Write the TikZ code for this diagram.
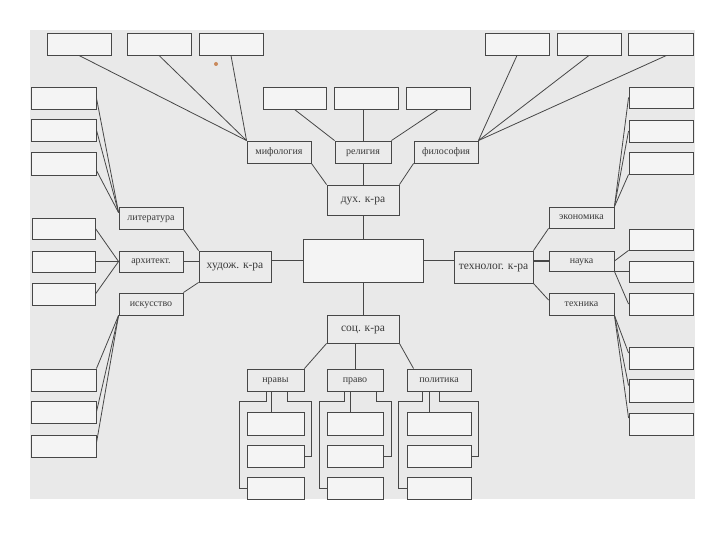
\documentclass[tikz,border=0pt]{standalone}
\usepackage{fontspec}
\setmainfont{Liberation Serif}
\definecolor{bg}{HTML}{E9E9E9}
\definecolor{blankfill}{HTML}{F4F4F4}
\definecolor{labelfill}{HTML}{EBEBEB}
\definecolor{edgecol}{HTML}{474747}
\definecolor{txtcol}{HTML}{3A3A3A}
\definecolor{dotcol}{HTML}{C98A5C}
\tikzset{
  box/.style={draw=edgecol, line width=0.9pt, inner sep=0pt, fill=labelfill,
    minimum width=64pt, minimum height=22pt, text=txtcol,
    text height=1ex, text depth=0pt,
    font=\fontsize{10}{12}\selectfont},
  bigbox/.style={box, font=\fontsize{11.5}{13}\selectfont},
  blank/.style={box, fill=blankfill},
  link/.style={draw=edgecol, line width=0.8pt},
  thicklink/.style={draw=edgecol, line width=1.6pt},
  midlink/.style={draw=edgecol, line width=1.2pt}
}
\begin{document}
\begin{tikzpicture}[x=1pt,y=-1pt]
\useasboundingbox (0,0) rectangle (720,540);
\fill[white] (0,0) rectangle (720,540);
\fill[bg] (30,30) rectangle (695,499);
\fill[dotcol] (216,64) circle (2pt);

% top rows
\node[blank] (tl1) at (79,44) {};
\node[blank] (tl2) at (159,44) {};
\node[blank] (tl3) at (231,44) {};
\node[blank] (tr1) at (517,44) {};
\node[blank] (tr2) at (589,44) {};
\node[blank, minimum width=65pt] (tr3) at (660.5,44) {};
\node[blank, minimum width=63pt] (m1) at (294.5,98) {};
\node[blank] (m2) at (366,98) {};
\node[blank] (m3) at (438,98) {};
\node[box] (myth) at (279,152) {мифология};
\node[box, minimum width=56pt] (rel) at (363,152) {религия};
\node[box] (phil) at (446,152) {философия};
\node[bigbox, minimum width=72pt, minimum height=30pt] (dukh) at (363,200) {дух. к-ра};

% centre row
\node[blank, minimum width=120pt, minimum height=43pt] (cen) at (363,260.5) {};
\node[bigbox, minimum width=72pt, minimum height=31pt] (hud) at (235,266.5) {худож. к-ра};
\node[bigbox, minimum width=79pt, minimum height=32pt] (tech) at (493.5,267) {технолог. к-ра};
\node[bigbox, minimum width=72pt, minimum height=28pt] (soc) at (363,329) {соц. к-ра};

% left side
\node[box] (lit) at (151,218) {литература};
\node[box, minimum height=21pt] (arch) at (151,261.5) {архитект.};
\node[box] (isk) at (151,304) {искусство};
\node[blank, minimum width=63pt, minimum height=21pt] (la1) at (63.5,228.5) {};
\node[blank, minimum width=63pt, minimum height=21pt] (la2) at (63.5,261.5) {};
\node[blank, minimum width=63pt] (la3) at (63.5,294) {};
\node[blank, minimum width=65pt] (lt1) at (63.5,98) {};
\node[blank, minimum width=65pt] (lt2) at (63.5,130) {};
\node[blank, minimum width=65pt, minimum height=23pt] (lt3) at (63.5,163.5) {};
\node[blank, minimum width=65pt] (lb1) at (63.5,380) {};
\node[blank, minimum width=65pt] (lb2) at (63.5,412) {};
\node[blank, minimum width=65pt] (lb3) at (63.5,446) {};

% right side
\node[box, minimum width=65pt, minimum height=21pt] (econ) at (581.5,217.5) {экономика};
\node[box, minimum width=65pt, minimum height=20pt] (nauka) at (581.5,261) {наука};
\node[box, minimum width=65pt] (tekh) at (581.5,304) {техника};
\node[blank, minimum height=21pt] (rt1) at (661,97.5) {};
\node[blank] (rt2) at (661,131) {};
\node[blank] (rt3) at (661,163) {};
\node[blank, minimum height=21pt] (rn1) at (661,239.5) {};
\node[blank, minimum height=21pt] (rn2) at (661,271.5) {};
\node[blank] (rn3) at (661,304) {};
\node[blank] (rb1) at (661,358) {};
\node[blank, minimum height=23pt] (rb2) at (661,390.5) {};
\node[blank] (rb3) at (661,424) {};

% bottom
\node[box, minimum width=57pt] (nrav) at (275.5,380) {нравы};
\node[box, minimum width=56pt] (prav) at (355,380) {право};
\node[box] (pol) at (439,380) {политика};
\node[blank, minimum width=57pt, minimum height=23pt] (n1) at (275.5,423.5) {};
\node[blank, minimum width=57pt] (n2) at (275.5,456) {};
\node[blank, minimum width=57pt] (n3) at (275.5,488) {};
\node[blank, minimum width=56pt, minimum height=23pt] (p1) at (355,423.5) {};
\node[blank, minimum width=56pt] (p2) at (355,456) {};
\node[blank, minimum width=56pt] (p3) at (355,488) {};
\node[blank, minimum height=23pt] (q1) at (439,423.5) {};
\node[blank] (q2) at (439,456) {};
\node[blank] (q3) at (439,488) {};

% connectors: spiritual culture
\draw[link] (tl1.south) -- (myth.north west);
\draw[link] (tl2.south) -- (myth.north west);
\draw[link] (tl3.south) -- (myth.north west);
\draw[link] (m1.south) -- (rel.north west);
\draw[link] (rel.north) -- (rel.north |- m2.south);
\draw[link] (m3.south) -- (rel.north east);
\draw[link] (tr1.south) -- (phil.north east);
\draw[link] (tr2.south) -- (phil.north east);
\draw[link] ([xshift=6pt]tr3.south) -- (phil.north east);
\draw[link] (myth.south east) -- (dukh.north west);
\draw[link] (rel.south) -- (dukh.north);
\draw[link] (phil.south west) -- (dukh.north east);
\draw[link] (dukh.south) -- (cen.north);

% centre
\draw[thicklink] (cen.west) -- (cen.west -| hud.east);
\draw[thicklink] (cen.east) -- (cen.east -| tech.west);
\draw[link] (cen.south) -- (soc.north);

% artistic culture
\draw[link] (lit.south east) -- (hud.north west);
\draw[thicklink] (arch.east) -- (arch.east -| hud.west);
\draw[link] (isk.north east) -- (hud.south west);
\draw[link] (lt1.east) -- ([yshift=-6pt]lit.north west);
\draw[link] (lt2.east) -- ([yshift=-6pt]lit.north west);
\draw[link] ([yshift=5pt]lt3.south east) -- ([yshift=-6pt]lit.north west);
\draw[link] (la1.east) -- (arch.west);
\draw[thicklink] (la2.east) -- (arch.west);
\draw[link] (la3.east) -- (arch.west);
\draw[link] (isk.south west) -- (lb1.north east);
\draw[link] (isk.south west) -- (lb2.east);
\draw[link] (isk.south west) -- ([yshift=3pt]lb3.east);

% technological culture
\draw[link] (econ.south west) -- (tech.north east);
\draw[thicklink] (nauka.west) -- (nauka.west -| tech.east);
\draw[link] (tech.south east) -- ([yshift=4pt]tekh.west);
\draw[link] (econ.north east) -- (rt1.west);
\draw[link] (econ.north east) -- (rt2.west);
\draw[link] (econ.north east) -- (rt3.south west);
\draw[link] (nauka.east) -- (rn1.south west);
\draw[midlink] (nauka.south west) -- (nauka.south west -| rn2.west);
\draw[link] (nauka.south east) -- (rn3.west);
\draw[link] (tekh.south east) -- ([yshift=5pt]rb1.west);
\draw[link] (tekh.south east) -- ([yshift=5pt]rb2.west);
\draw[link] (tekh.south east) -- ([yshift=6pt]rb3.west);

% social culture
\draw[link] (soc.south west) -- (nrav.north east);
\draw[link] (prav.north) -- (prav.north |- soc.south);
\draw[link] (soc.south east) -- ([xshift=7pt]pol.north west);

% brackets
\draw[link] ([xshift=-9.5pt]nrav.south) -- ++(0,10) -| ([xshift=-7pt]n3.west) -- (n3.west);
\draw[link] ([xshift=-4.5pt]nrav.south) -- ([xshift=-4.5pt]n1.north);
\draw[link] ([xshift=11.5pt]nrav.south) -- ++(0,10) -| ([xshift=7pt]n2.east) -- (n2.east);
\draw[link] ([xshift=-11pt]prav.south) -- ++(0,10) -| ([xshift=-7pt]p3.west) -- (p3.west);
\draw[link] ([xshift=-5pt]prav.south) -- ([xshift=-5pt]p1.north);
\draw[link] ([xshift=21pt]prav.south) -- ++(0,10) -| ([xshift=8pt]p2.east) -- (p2.east);
\draw[link] ([xshift=-17pt]pol.south) -- ++(0,10) -| ([xshift=-8pt]q3.west) -- (q3.west);
\draw[link] ([xshift=-10pt]pol.south) -- ([xshift=-10pt]q1.north);
\draw[link] (pol.south) -- ++(0,10) -| ([xshift=7pt]q2.east) -- (q2.east);
\end{tikzpicture}
\end{document}
